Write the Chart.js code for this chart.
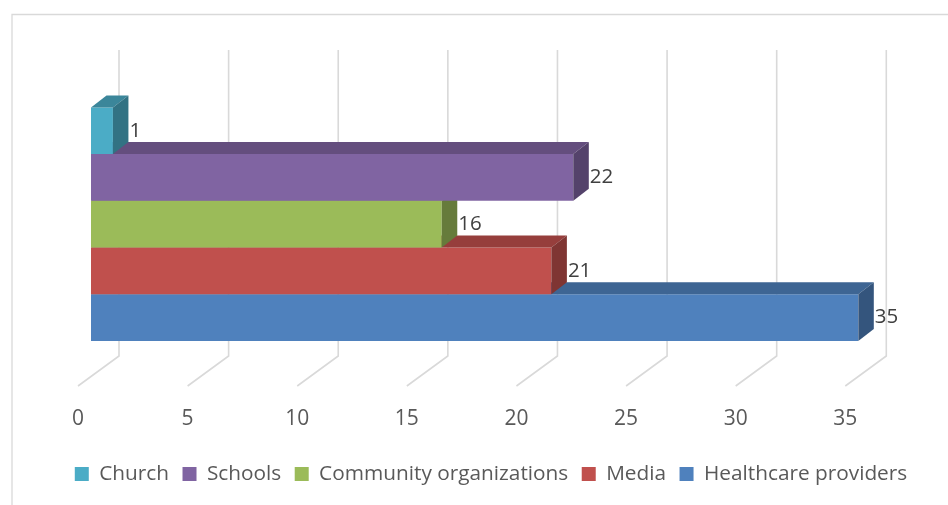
<!DOCTYPE html>
<html>
<head>
<meta charset="utf-8">
<script src="https://cdn.jsdelivr.net/npm/chart.js@4"></script>
<style>
  body { margin: 0; background: #fff; }
  #wrap { width: 948px; height: 505px; }
</style>
</head>
<body>
<div id="wrap"><canvas id="awarenessChart"></canvas></div>
<script>
const seriesNames = ["Church", "Schools", "Community organizations", "Media", "Healthcare providers"];
const seriesValues = [1, 22, 16, 21, 35];
const seriesColors = ["#4BACC6", "#8064A2", "#9BBB59", "#C0504D", "#4F81BD"];
const axisMax = 35;
const axisStep = 5;

// fake 3d: how far the bar's back edge sits from its front face
const DEPTH_X = 15.5;
const DEPTH_Y = -12;
const FONT = "'Open Sans', sans-serif";

function shade(hex, f) {
    const n = parseInt(hex.slice(1), 16);
    const r = Math.round(((n >> 16) & 255) * f);
    const g = Math.round(((n >> 8) & 255) * f);
    const b = Math.round((n & 255) * f);
    return `rgb(${r},${g},${b})`;
}

// outer frame of the chart object
const framePlugin = {
    id: "frame",
    beforeDraw(chart) {
        const ctx = chart.ctx;
        ctx.save();
        ctx.strokeStyle = "#d9d9d9";
        ctx.lineWidth = 1.3;
        ctx.beginPath();
        ctx.moveTo(12, chart.height);
        ctx.lineTo(12, 14.5);
        ctx.lineTo(chart.width, 14.5);
        ctx.stroke();
        ctx.restore();
    }
};

// back wall gridlines plus the slanted floor lines
const wallPlugin = {
    id: "wall",
    beforeDatasetsDraw(chart) {
        const ctx = chart.ctx;
        const area = chart.chartArea;
        const xs = chart.scales.x;
        ctx.save();
        ctx.strokeStyle = "#d9d9d9";
        ctx.lineWidth = 1.6;
        xs.ticks.forEach(t => {
            const px = xs.getPixelForValue(t.value);
            ctx.beginPath();
            ctx.moveTo(px + 28, area.top - 12.4);
            ctx.lineTo(px + 28, area.bottom - 30);
            ctx.lineTo(px - 13, area.bottom);
            ctx.stroke();
        });
        ctx.restore();
    }
};

// top and end faces, drawn right after each series so the upper bars overlap the lower ones
const boxPlugin = {
    id: "box3d",
    afterDatasetDraw(chart, args) {
        const ctx = chart.ctx;
        const color = seriesColors[args.index];
        ctx.save();
        args.meta.data.forEach(bar => {
            const { x, y, base, height } = bar.getProps(["x", "y", "base", "height"], true);
            const top = y - height / 2;
            const bottom = y + height / 2;

            ctx.fillStyle = shade(color, 0.78);
            ctx.beginPath();
            ctx.moveTo(base, top);
            ctx.lineTo(base + DEPTH_X, top + DEPTH_Y);
            ctx.lineTo(x + DEPTH_X, top + DEPTH_Y);
            ctx.lineTo(x, top);
            ctx.closePath();
            ctx.fill();

            ctx.fillStyle = shade(color, 0.66);
            ctx.beginPath();
            ctx.moveTo(x, top);
            ctx.lineTo(x + DEPTH_X, top + DEPTH_Y);
            ctx.lineTo(x + DEPTH_X, bottom + DEPTH_Y);
            ctx.lineTo(x, bottom);
            ctx.closePath();
            ctx.fill();
        });
        ctx.restore();
    }
};

const valueLabels = {
    id: "valueLabels",
    afterDatasetsDraw(chart) {
        const ctx = chart.ctx;
        ctx.save();
        ctx.font = "20.5px " + FONT;
        ctx.fillStyle = "#404040";
        ctx.textAlign = "left";
        ctx.textBaseline = "middle";
        chart.data.datasets.forEach((ds, i) => {
            chart.getDatasetMeta(i).data.forEach((bar, j) => {
                ctx.fillText(ds.data[j], bar.x + DEPTH_X + 1, bar.y);
            });
        });
        ctx.restore();
    }
};

const ctx = document.getElementById("awarenessChart").getContext("2d");

new Chart(ctx, {
    type: "bar",
    data: {
        labels: [""],
        datasets: seriesNames.map((name, i) => ({
            label: name,
            data: [seriesValues[i]],
            backgroundColor: seriesColors[i],
            borderWidth: 0,
            categoryPercentage: 0.722,
            barPercentage: 1
        }))
    },
    options: {
        indexAxis: "y",
        responsive: true,
        maintainAspectRatio: false,
        animation: false,
        layout: {
            padding: { top: 62.4, left: 34, right: 0, bottom: 10.6 }
        },
        scales: {
            x: {
                min: 0,
                max: axisMax,
                grid: { display: false },
                border: { display: false },
                ticks: {
                    stepSize: axisStep,
                    labelOffset: -13,
                    padding: 12,
                    color: "#595959",
                    font: { family: FONT, size: 21 }
                },
                afterFit(scale) { scale.height = 64.1; }
            },
            y: {
                grid: { display: false },
                border: { display: false },
                ticks: { display: false },
                afterFit(scale) { scale.width = 57; }
            },
            yRight: {
                type: "linear",
                position: "right",
                grid: { display: false },
                border: { display: false },
                ticks: { display: false },
                afterFit(scale) { scale.width = 89.7; }
            }
        },
        plugins: {
            legend: {
                position: "bottom",
                labels: {
                    boxWidth: 14,
                    boxHeight: 14,
                    padding: 13.5,
                    color: "#595959",
                    font: { family: FONT, size: 20.8 }
                }
            },
            tooltip: { enabled: false }
        }
    },
    plugins: [framePlugin, wallPlugin, boxPlugin, valueLabels]
});
</script>
</body>
</html>
